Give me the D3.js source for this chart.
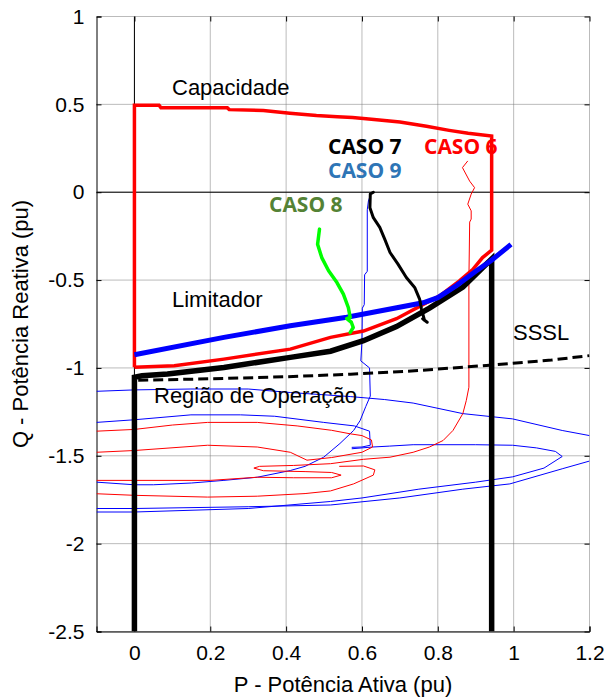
<!DOCTYPE html>
<html>
<head>
<meta charset="utf-8">
<script src="https://cdn.jsdelivr.net/npm/d3@7"></script>
<style>
  body { margin: 0; background: #fff; }
  text { font-family: "Liberation Sans", Arial, sans-serif; }
  .caso { font-family: "Open Sans", "Noto Sans", sans-serif; font-weight: bold; }
</style>
</head>
<body>
<div class="chart"></div>
<script>
// ticks
var xTicks = [0, 0.2, 0.4, 0.6, 0.8, 1, 1.2];
var yTicks = [1, 0.5, 0, -0.5, -1, -1.5, -2, -2.5];

// limite de capacidade (vermelho grosso)
var capacidade = [[0,-0.996],[0,0.495],[0.065,0.495],[0.07,0.48],[0.245,0.48],[0.25,0.47],[0.34,0.465],
  [0.41,0.45],[0.48,0.437],[0.535,0.43],[0.575,0.425],[0.625,0.415],[0.70,0.40],[0.77,0.375],[0.83,0.352],
  [0.88,0.335],[0.942,0.32],[0.942,-0.33],[0.918,-0.372],[0.892,-0.44],[0.857,-0.504],[0.805,-0.59],
  [0.778,-0.62],[0.691,-0.72],[0.604,-0.79],[0.517,-0.826],[0.411,-0.893],[0.236,-0.95],[0.105,-0.987],[0,-0.996]];

// região de operação (preto grosso)
var regiao = [[0,-2.5],[0,-1.053],[0.02,-1.045],[0.087,-1.034],[0.236,-0.997],[0.411,-0.94],[0.517,-0.905],
  [0.604,-0.845],[0.691,-0.765],[0.778,-0.66],[0.866,-0.54],[0.918,-0.43],[0.942,-0.38],[0.942,-2.5]];

// limitador (azul grosso)
var limitador = [[0,-0.925],[0.236,-0.826],[0.411,-0.76],[0.56,-0.712],[0.761,-0.629],[0.80,-0.60],
  [0.85,-0.53],[0.90,-0.45],[0.94,-0.39],[0.993,-0.297]];

// SSSL (tracejado)
var sssl = [[0.01,-1.07],[0.2,-1.062],[0.4,-1.05],[0.57,-1.036],[0.75,-1.015],[0.945,-0.983],[1.1,-0.955],[1.2,-0.93]];

// CASO 8 (verde)
var caso8 = [[0.488,-0.21],[0.483,-0.296],[0.494,-0.372],[0.512,-0.447],[0.534,-0.514],[0.551,-0.58],
  [0.564,-0.656],[0.569,-0.712],[0.56,-0.72],[0.572,-0.74],[0.577,-0.77],[0.569,-0.798]];

// CASO 7 (preto)
var caso7 = [[0.63,0.0],[0.622,-0.01],[0.621,-0.088],[0.63,-0.145],[0.647,-0.2],[0.66,-0.267],[0.674,-0.343],
  [0.695,-0.409],[0.717,-0.485],[0.739,-0.542],[0.752,-0.608],[0.757,-0.665],[0.765,-0.73],[0.76,-0.72],[0.772,-0.74]];

// CASO 9 (azul fino), trechos
var caso9 = [
  [[0.625,0],[0.617,-0.05],[0.614,-0.1],[0.614,-0.45],[0.607,-0.47],[0.606,-0.64],[0.601,-0.66],[0.6,-0.85],
   [0.597,-0.96],[0.62,-1.0],[0.622,-1.16],[0.61,-1.22],[0.595,-1.3],[0.578,-1.356],[0.542,-1.43],[0.499,-1.508],
   [0.45,-1.56],[0.411,-1.584],[0.324,-1.622],[0.236,-1.64],[0.15,-1.655],[0.05,-1.665],[0,-1.665],[-0.1,-1.65]],
  [[-0.1,-1.133],[0,-1.125],[0.149,-1.12],[0.3,-1.12],[0.411,-1.14],[0.569,-1.163],[0.66,-1.18],[0.735,-1.2],
   [0.866,-1.26],[0.997,-1.29],[1.128,-1.356],[1.2,-1.385]],
  [[-0.1,-1.31],[0,-1.295],[0.149,-1.267],[0.28,-1.267],[0.37,-1.275],[0.499,-1.31],[0.58,-1.33],[0.62,-1.36],
   [0.622,-1.44],[0.6,-1.45],[0.573,-1.452]],
  [[-0.1,-1.82],[0,-1.82],[0.3,-1.8],[0.517,-1.76],[0.6,-1.74],[0.75,-1.69],[0.9,-1.65],[0.997,-1.62],
   [1.08,-1.57],[1.128,-1.504],[1.11,-1.475],[1.06,-1.455],[0.997,-1.44],[0.9,-1.437],[0.735,-1.437],
   [0.672,-1.445],[0.628,-1.45],[0.573,-1.46]],
  [[1.2,-1.53],[1.128,-1.574],[0.99,-1.66],[0.866,-1.69],[0.7,-1.74],[0.517,-1.78],[0.3,-1.79],[0,-1.8],[-0.1,-1.8]]
];

// CASO 6 (vermelho fino), trechos
var caso6 = [
  [[0.879,0.178],[0.865,0.14],[0.884,0.063],[0.897,0.026],[0.888,-0.011],[0.879,-0.068],[0.888,-0.106],
   [0.888,-0.153],[0.884,-0.17],[0.882,-0.5],[0.882,-1.11],[0.875,-1.186],[0.866,-1.26],[0.84,-1.356],
   [0.814,-1.413],[0.778,-1.45],[0.735,-1.48],[0.674,-1.508],[0.604,-1.52],[0.517,-1.545],[0.42,-1.555],
   [0.33,-1.56],[0.315,-1.57],[0.34,-1.585],[0.45,-1.59],[0.52,-1.595],[0.545,-1.61],[0.52,-1.625],
   [0.42,-1.625],[0.324,-1.622],[0.2,-1.64],[0,-1.64],[-0.1,-1.64]],
  [[-0.1,-1.36],[0,-1.35],[0.1,-1.325],[0.193,-1.31],[0.324,-1.31],[0.429,-1.33],[0.52,-1.355],[0.569,-1.375],
   [0.6,-1.385],[0.625,-1.41],[0.628,-1.45],[0.6,-1.48],[0.52,-1.51],[0.455,-1.525],[0.411,-1.48],
   [0.324,-1.45],[0.193,-1.44],[0,-1.47],[-0.1,-1.48]],
  [[-0.1,-1.716],[0,-1.725],[0.193,-1.735],[0.324,-1.73],[0.45,-1.715],[0.517,-1.7],[0.578,-1.66],
   [0.63,-1.61],[0.634,-1.58],[0.604,-1.558],[0.54,-1.56]]
];

// graph
var W = 606, H = 698;
var svg = d3.select(".chart").append("svg")
    .attr("width", W)
    .attr("height", H);

var x = d3.scaleLinear().domain([-0.1, 1.2]).range([96.5, 589.5]);
var y = d3.scaleLinear().domain([-2.5, 1]).range([631.5, 16.5]);

var line = d3.line().x(d => x(d[0])).y(d => y(d[1]));

svg.append("clipPath").attr("id", "clip")
  .append("rect")
    .attr("x", x(-0.1)).attr("y", y(1))
    .attr("width", x(1.2) - x(-0.1)).attr("height", y(-2.5) - y(1));

// grid
var grid = svg.append("g").attr("class", "grid");
grid.selectAll(".gx")
    .data(xTicks)
  .enter().append("line")
    .attr("x1", d => x(d)).attr("x2", d => x(d))
    .attr("y1", y(1)).attr("y2", y(-2.5))
    .attr("stroke", "#777").attr("stroke-dasharray", "1,1");
grid.selectAll(".gy")
    .data(yTicks)
  .enter().append("line")
    .attr("x1", x(-0.1)).attr("x2", x(1.2))
    .attr("y1", d => y(d)).attr("y2", d => y(d))
    .attr("stroke", "#777").attr("stroke-dasharray", "1,1");

// axes (ticks inward on all sides), hyphen as minus sign
var fmt = d => String(d);
svg.append("g")
    .attr("transform", "translate(0," + y(-2.5) + ")")
    .call(d3.axisBottom(x).tickValues(xTicks).tickSize(-5).tickPadding(14).tickFormat(fmt))
    .call(g => g.select(".domain").attr("stroke", "#000"));
svg.append("g")
    .attr("transform", "translate(0," + y(1) + ")")
    .call(d3.axisTop(x).tickValues(xTicks).tickSize(-5).tickFormat(""))
    .call(g => g.select(".domain").remove());
svg.append("g")
    .attr("transform", "translate(" + x(-0.1) + ",0)")
    .call(d3.axisLeft(y).tickValues(yTicks).tickSize(-5).tickPadding(12).tickFormat(fmt))
    .call(g => g.select(".domain").attr("stroke", "#000"));
svg.append("g")
    .attr("transform", "translate(" + x(1.2) + ",0)")
    .call(d3.axisRight(y).tickValues(yTicks).tickSize(-5).tickFormat(""))
    .call(g => g.select(".domain").remove());

svg.selectAll(".tick text")
    .style("font-family", "'Liberation Sans', Arial, sans-serif")
    .style("font-size", "21px")
    .attr("fill", "#000");

// axis titles
svg.append("text")
    .attr("x", (x(-0.1) + x(1.2)) / 2).attr("y", 692)
    .attr("text-anchor", "middle")
    .style("font-size", "22px")
    .text("P - Potência Ativa (pu)");
svg.append("text")
    .attr("transform", "translate(28," + (y(-2.5) + y(1)) / 2 + ") rotate(-90)")
    .attr("text-anchor", "middle")
    .style("font-size", "22px")
    .text("Q - Potência Reativa (pu)");

// data
var plot = svg.append("g").attr("clip-path", "url(#clip)");

plot.append("path")
    .attr("d", line([[0, 1], [0, -1.05]]))
    .attr("stroke", "#000").attr("stroke-width", 1).attr("fill", "none");
plot.append("path")
    .attr("d", line([[-0.1, 0], [1.2, 0]]))
    .attr("stroke", "#000").attr("stroke-width", 1).attr("fill", "none");

plot.selectAll(".c9")
    .data(caso9)
  .enter().append("path")
    .attr("d", line)
    .attr("fill", "none").attr("stroke", "#0000ff").attr("stroke-width", 1);

plot.selectAll(".c6")
    .data(caso6)
  .enter().append("path")
    .attr("d", line)
    .attr("fill", "none").attr("stroke", "#ff0000").attr("stroke-width", 1);

plot.append("path")
    .attr("d", line(regiao))
    .attr("fill", "none").attr("stroke", "#000").attr("stroke-width", 5.5)
    .attr("stroke-linejoin", "miter");

plot.append("path")
    .attr("d", line(capacidade))
    .attr("fill", "none").attr("stroke", "#ff0000").attr("stroke-width", 3.5);

plot.append("path")
    .attr("d", line(limitador))
    .attr("fill", "none").attr("stroke", "#0000ff").attr("stroke-width", 5)
    .attr("stroke-linecap", "butt");

plot.append("path")
    .attr("d", line(sssl))
    .attr("fill", "none").attr("stroke", "#000").attr("stroke-width", 3)
    .attr("stroke-dasharray", "10,5");

plot.append("path")
    .attr("d", line(caso8))
    .attr("fill", "none").attr("stroke", "#00ff00").attr("stroke-width", 3.5)
    .attr("stroke-linejoin", "round").attr("stroke-linecap", "round");

plot.append("path")
    .attr("d", line(caso7))
    .attr("fill", "none").attr("stroke", "#000").attr("stroke-width", 3)
    .attr("stroke-linejoin", "round").attr("stroke-linecap", "round");

// labels
var notes = svg.append("g");
notes.append("text").attr("x", 172).attr("y", 95).style("font-size", "22px").text("Capacidade");
notes.append("text").attr("x", 172).attr("y", 307).style("font-size", "22px").text("Limitador");
notes.append("text").attr("x", 154).attr("y", 403).style("font-size", "22px").text("Região de Operação");
notes.append("text").attr("x", 513).attr("y", 340).style("font-size", "22px").text("SSSL");

notes.append("text").attr("class", "caso").attr("x", 328).attr("y", 154)
    .style("font-size", "21px").attr("fill", "#000").text("CASO 7");
notes.append("text").attr("class", "caso").attr("x", 328).attr("y", 178)
    .style("font-size", "21px").attr("fill", "#2e75b6").text("CASO 9");
notes.append("text").attr("class", "caso").attr("x", 424).attr("y", 154)
    .style("font-size", "21px").attr("fill", "#ff0000").text("CASO 6");
notes.append("text").attr("class", "caso").attr("x", 269).attr("y", 212)
    .style("font-size", "21px").attr("fill", "#548235").text("CASO 8");
</script>
</body>
</html>
